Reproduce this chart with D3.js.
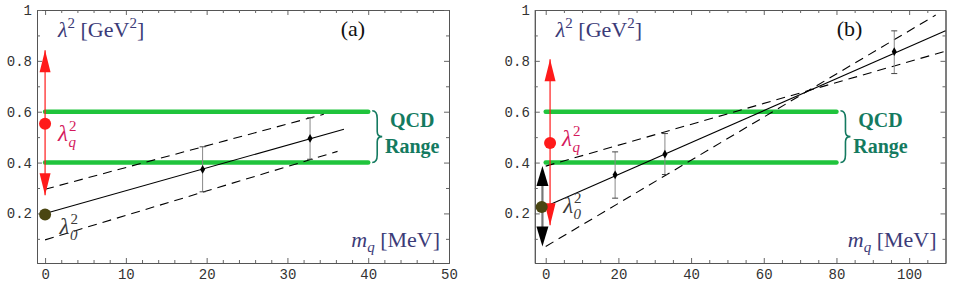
<!DOCTYPE html>
<html lang="en">
<head>
    <meta charset="UTF-8">
    <script src="https://d3js.org/d3.v7.min.js"></script>
    <title>lambda^2 vs m_q</title>
    <style>
        body { margin: 0; background: #fff; }
        svg { display: block; }
    </style>
</head>
<body>
    <div id="container"></div>
<script>
    // canvas
    var width = 954, height = 286;

    // ---- data ----
    // y axis (shared)
    var yMajor = [0.2, 0.4, 0.6, 0.8, 1];
    var yMinor = [0.1, 0.3, 0.5, 0.7, 0.9];
    var qcdRange = [0.4, 0.6];

    // panel (a)
    var aXMajor = [0, 10, 20, 30, 40, 50];
    var aXMinor = [2, 4, 6, 8, 12, 14, 16, 18, 22, 24, 26, 28, 32, 34, 36, 38, 42, 44, 46, 48];
    var aMq  = [19.5, 32.8];
    var aLam = [0.373, 0.495];
    var aLo  = [0.285, 0.413];
    var aHi  = [0.462, 0.576];
    var aFit   = [[0, 0.2], [37, 0.531]];
    var aUpper = [[0, 0.295], [34.5, 0.59]];
    var aLower = [[0, 0.096], [36.2, 0.444]];
    var aQcdEnd = 40;
    var aRedArrow = [0, 0.271, 0.842];     // x, bottom tip, top tip
    var aLamQ = [0, 0.553];
    var aLam0 = [0, 0.196];

    // panel (b)
    var bXMajor = [0, 20, 40, 60, 80, 100];
    var bXMinor = [5, 10, 15, 25, 30, 35, 45, 50, 55, 65, 70, 75, 85, 90, 95, 105];
    var bMq  = [19.1, 32.8, 95.9];
    var bLam = [0.352, 0.433, 0.836];
    var bLo  = [0.26, 0.353, 0.75];
    var bHi  = [0.442, 0.514, 0.918];
    var bFit     = [[1.2, 0.235], [110, 0.918]];
    var bSteep   = [[0, 0.07], [107.3, 0.98]];
    var bShallow = [[0, 0.386], [110, 0.838]];
    var bQcdEnd = 80;
    var bRedArrow = [1.2, 0.153, 0.806];
    var bBlackArrow = [-0.9, 0.07, 0.386];
    var bLamQ = [1.2, 0.477];
    var bLam0 = [-1.1, 0.225];

    // colours
    var green = "#20c43c", red = "#ff1a1a", olive = "#4a4612",
        crimson = "#d4185c", navy = "#3b3b78", teal = "#147a60";

    const svg = d3.select("#container").append("svg")
        .attr("width", width).attr("height", height);

    var y = d3.scaleLinear().domain([0.005, 1]).range([263, 10]);

    function arrowHead(g, x, tipY, dir, color, len, w) {
        // dir = -1 pointing up, +1 pointing down
        var baseY = tipY - dir * len;
        g.append("path")
            .attr("d", `M${x},${tipY}L${x - w / 2},${baseY}L${x + w / 2},${baseY}Z`)
            .attr("fill", color);
    }

    function drawPanel(opt) {
        var x = d3.scaleLinear().domain(opt.xDomain).range(opt.xRange);
        var g = svg.append("g");
        var x0 = opt.xRange[0], x1 = opt.xRange[1];

        // axes (ticks inward, frame all around)
        var axes = g.append("g");

        function styleAxis(sel) {
            sel.attr("font-family", "'Liberation Mono', 'DejaVu Sans Mono', monospace")
               .attr("font-size", 14);
            sel.select(".domain").attr("stroke", "#555");
            sel.selectAll(".tick line").attr("stroke", "#666");
            sel.selectAll("text").attr("fill", "#333");
        }

        axes.append("g").attr("transform", "translate(0,263)")
            .call(d3.axisBottom(x).tickValues(opt.xMajor).tickSize(-5).tickSizeOuter(0).tickPadding(6).tickFormat(d3.format("d")))
            .call(styleAxis);
        axes.append("g").attr("transform", "translate(0,263)")
            .call(d3.axisBottom(x).tickValues(opt.xMinor).tickSize(-3).tickSizeOuter(0).tickFormat(""))
            .call(styleAxis);
        axes.append("g").attr("transform", "translate(0,10)")
            .call(d3.axisTop(x).tickValues(opt.xMajor).tickSize(-5).tickSizeOuter(0).tickFormat(""))
            .call(styleAxis);
        axes.append("g").attr("transform", "translate(0,10)")
            .call(d3.axisTop(x).tickValues(opt.xMinor).tickSize(-3).tickSizeOuter(0).tickFormat(""))
            .call(styleAxis);
        axes.append("g").attr("transform", `translate(${x0},0)`)
            .call(d3.axisLeft(y).tickValues(yMajor).tickSize(-5).tickSizeOuter(0).tickPadding(5)
                .tickFormat(d => d === 1 ? "1" : d3.format(".1f")(d)))
            .call(styleAxis);
        axes.append("g").attr("transform", `translate(${x0},0)`)
            .call(d3.axisLeft(y).tickValues(yMinor).tickSize(-3).tickSizeOuter(0).tickFormat(""))
            .call(styleAxis);
        axes.append("g").attr("transform", `translate(${x1},0)`)
            .call(d3.axisRight(y).tickValues(yMajor).tickSize(-5).tickSizeOuter(0).tickFormat(""))
            .call(styleAxis);
        axes.append("g").attr("transform", `translate(${x1},0)`)
            .call(d3.axisRight(y).tickValues(yMinor).tickSize(-3).tickSizeOuter(0).tickFormat(""))
            .call(styleAxis);

        // QCD range lines
        g.append("g").selectAll("line").data(qcdRange).join("line")
            .attr("x1", x(0)).attr("x2", x(opt.qcdEnd))
            .attr("y1", d => y(d)).attr("y2", d => y(d))
            .attr("stroke", green).attr("stroke-width", 4.5).attr("stroke-linecap", "round");

        // brace + label
        var bx = x(opt.qcdEnd) + 4, yt = y(qcdRange[1]) - 1, yb = y(qcdRange[0]), h = yb - yt, ym = (yt + yb) / 2, w = 10;
        g.append("path")
            .attr("d", `M${bx},${yt}Q${bx + w / 2},${yt} ${bx + w / 2},${yt + h * 0.15}L${bx + w / 2},${ym - h * 0.1}` +
                `Q${bx + w / 2},${ym} ${bx + w},${ym}Q${bx + w / 2},${ym} ${bx + w / 2},${ym + h * 0.1}` +
                `L${bx + w / 2},${yb - h * 0.15}Q${bx + w / 2},${yb} ${bx},${yb}`)
            .attr("fill", "none").attr("stroke", teal).attr("stroke-width", 1.6);
        var qt = g.append("g")
            .attr("font-family", "'Liberation Serif', 'DejaVu Serif', serif")
            .attr("font-weight", "bold").attr("font-size", 20)
            .attr("fill", teal).attr("text-anchor", "middle");
        qt.append("text").attr("x", bx + 40).attr("y", 127).text("QCD");
        qt.append("text").attr("x", bx + 40).attr("y", 153).text("Range");

        // lines
        var line = d3.line().x(d => x(d[0])).y(d => y(d[1]));
        opt.dashed.forEach(function (seg) {
            g.append("path").attr("d", line(seg))
                .attr("fill", "none").attr("stroke", "#000").attr("stroke-width", 1.1)
                .attr("stroke-dasharray", "9,6");
        });
        g.append("path").attr("d", line(opt.fit))
            .attr("fill", "none").attr("stroke", "#000").attr("stroke-width", 1.1);

        // error bars and points
        var pts = opt.mq.map((m, i) => ({ m: m, v: opt.lam[i], lo: opt.lo[i], hi: opt.hi[i] }));
        var eb = g.append("g").selectAll("g").data(pts).join("g");
        eb.append("line")
            .attr("x1", d => x(d.m)).attr("x2", d => x(d.m))
            .attr("y1", d => y(d.lo)).attr("y2", d => y(d.hi))
            .attr("stroke", "#888").attr("stroke-width", 1);
        eb.append("line")
            .attr("x1", d => x(d.m) - 3).attr("x2", d => x(d.m) + 3)
            .attr("y1", d => y(d.hi)).attr("y2", d => y(d.hi))
            .attr("stroke", "#444").attr("stroke-width", 1);
        eb.append("line")
            .attr("x1", d => x(d.m) - 3).attr("x2", d => x(d.m) + 3)
            .attr("y1", d => y(d.lo)).attr("y2", d => y(d.lo))
            .attr("stroke", "#444").attr("stroke-width", 1);
        eb.append("path")
            .attr("d", d => d3.symbol(d3.symbolDiamond, 22)())
            .attr("transform", d => `translate(${x(d.m)},${y(d.v)})`)
            .attr("fill", "#000");

        // black double arrow (panel b only)
        if (opt.blackArrow) {
            var ba = opt.blackArrow, bax = x(ba[0]);
            g.append("line").attr("x1", bax).attr("x2", bax)
                .attr("y1", y(ba[1]) - 18).attr("y2", y(ba[2]) + 18)
                .attr("stroke", "#777").attr("stroke-width", 2.2);
            arrowHead(g, bax, y(ba[2]), -1, "#000", 20, 12);
            arrowHead(g, bax, y(ba[1]), 1, "#000", 20, 12);
        }

        // red double arrow
        var ra = opt.redArrow, rax = x(ra[0]);
        g.append("line").attr("x1", rax).attr("x2", rax)
            .attr("y1", y(ra[1])).attr("y2", y(ra[2]))
            .attr("stroke", red).attr("stroke-width", 1.2);
        arrowHead(g, rax, y(ra[2]), -1, red, 22, 11);
        arrowHead(g, rax, y(ra[1]), 1, red, 22, 11);

        // circles
        g.append("circle").attr("cx", x(opt.lam0[0])).attr("cy", y(opt.lam0[1])).attr("r", 6).attr("fill", olive);
        g.append("circle").attr("cx", x(opt.lamQ[0])).attr("cy", y(opt.lamQ[1])).attr("r", 6).attr("fill", red);

        // math labels
        var serif = "'Liberation Serif', 'DejaVu Serif', serif";
        function lamLabel(px, py, sub, color) {
            var t = g.append("text").attr("x", px).attr("y", py)
                .attr("font-family", serif).attr("font-size", 23).attr("fill", color);
            t.append("tspan").attr("font-style", "italic").text("λ");
            t.append("tspan").attr("font-size", 15).attr("dy", -10).attr("dx", 1).text("2");
            t.append("tspan").attr("font-size", 15).attr("font-style", "italic")
                .attr("dx", -8).attr("dy", 16).text(sub);
        }
        lamLabel(x(opt.lamQLabel[0]), y(opt.lamQLabel[1]), "q", crimson);
        lamLabel(x(opt.lam0Label[0]), y(opt.lam0Label[1]), "0", "#3a3a3a");

        var t1 = g.append("text").attr("x", x0 + 21).attr("y", 37)
            .attr("font-family", serif).attr("font-size", 22).attr("fill", navy);
        t1.append("tspan").attr("font-style", "italic").text("λ");
        t1.append("tspan").attr("font-size", 15).attr("dy", -9).text("2");
        t1.append("tspan").attr("dy", 9).text(" [GeV");
        t1.append("tspan").attr("font-size", 15).attr("dy", -9).text("2");
        t1.append("tspan").attr("dy", 9).text("]");

        var t2 = g.append("text").attr("x", x1 - 9).attr("y", 247).attr("text-anchor", "end")
            .attr("font-family", serif).attr("font-size", 22).attr("fill", navy);
        t2.append("tspan").attr("font-style", "italic").text("m");
        t2.append("tspan").attr("font-style", "italic").attr("font-size", 15).attr("dy", 5).text("q");
        t2.append("tspan").attr("dy", -5).text(" [MeV]");

        g.append("text").attr("x", x1 - 96).attr("y", 36).attr("text-anchor", "middle")
            .attr("font-family", serif).attr("font-size", 22).attr("fill", "#111").text(opt.tag);
    }

    drawPanel({
        xDomain: [-1, 50], xRange: [37, 449], xMajor: aXMajor, xMinor: aXMinor,
        mq: aMq, lam: aLam, lo: aLo, hi: aHi,
        fit: aFit, dashed: [aUpper, aLower], qcdEnd: aQcdEnd,
        redArrow: aRedArrow, lamQ: aLamQ, lam0: aLam0,
        lamQLabel: [1.6, 0.485], lam0Label: [1.8, 0.119], tag: "(a)"
    });
    drawPanel({
        xDomain: [-3, 110], xRange: [534.8, 945.5], xMajor: bXMajor, xMinor: bXMinor,
        mq: bMq, lam: bLam, lo: bLo, hi: bHi,
        fit: bFit, dashed: [bSteep, bShallow], qcdEnd: bQcdEnd,
        redArrow: bRedArrow, blackArrow: bBlackArrow, lamQ: bLamQ, lam0: bLam0,
        lamQLabel: [4.5, 0.465], lam0Label: [4.8, 0.2], tag: "(b)"
    });
</script>
</body>
</html>
